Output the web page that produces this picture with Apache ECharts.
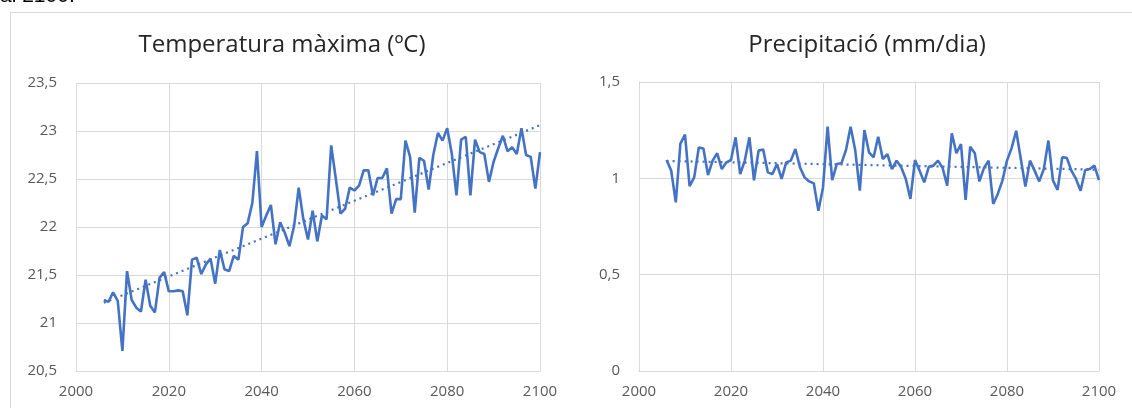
<!DOCTYPE html>
<html>
<head>
<meta charset="utf-8">
<script src="https://cdn.jsdelivr.net/npm/echarts@6/dist/echarts.min.js"></script>
<style>
html,body{margin:0;padding:0;background:#fff;}
#chart{width:1132px;height:408px;}
</style>
</head>
<body>
<div id="chart"></div>
<script>
// Years 2006..2100
const years = [];
for (let y = 2006; y <= 2100; y++) years.push(y);

const tempMax = [
  21.24, 21.22, 21.32, 21.23, 20.71, 21.54, 21.24, 21.16, 21.12, 21.45,
  21.18, 21.11, 21.47, 21.53, 21.33, 21.33, 21.34, 21.33, 21.08, 21.66,
  21.68, 21.51, 21.61, 21.67, 21.41, 21.76, 21.56, 21.54, 21.70, 21.66,
  22.00, 22.04, 22.25, 22.79, 22.00, 22.12, 22.23, 21.82, 22.05, 21.94,
  21.80, 22.01, 22.41, 22.08, 21.87, 22.17, 21.85, 22.12, 22.08, 22.85,
  22.50, 22.14, 22.19, 22.41, 22.38, 22.43, 22.59, 22.59, 22.33, 22.51,
  22.51, 22.61, 22.14, 22.29, 22.29, 22.90, 22.73, 22.15, 22.72, 22.69,
  22.39, 22.75, 22.98, 22.90, 23.03, 22.76, 22.33, 22.91, 22.94, 22.33,
  22.91, 22.78, 22.76, 22.47, 22.68, 22.82, 22.95, 22.79, 22.83, 22.76,
  23.03, 22.75, 22.73, 22.40, 22.78
];

const precip = [
  1.095, 1.04, 0.875, 1.18, 1.227, 0.96, 1.005, 1.16, 1.155, 1.017,
  1.092, 1.13, 1.048, 1.083, 1.095, 1.213, 1.022, 1.092, 1.213, 0.99,
  1.144, 1.149, 1.031, 1.022, 1.074, 0.997, 1.083, 1.092, 1.152, 1.057,
  1.005, 0.984, 0.974, 0.832, 0.953, 1.268, 0.991, 1.074, 1.078, 1.147,
  1.268, 1.147, 0.936, 1.251, 1.135, 1.109, 1.216, 1.10, 1.126, 1.048,
  1.092, 1.057, 0.997, 0.893, 1.095, 1.04, 0.979, 1.06, 1.066, 1.092,
  1.054, 0.962, 1.234, 1.13, 1.178, 0.888, 1.164, 1.13, 0.984, 1.054,
  1.092, 0.867, 0.919, 0.988, 1.092, 1.157, 1.247, 1.10, 0.957, 1.092,
  1.04, 0.984, 1.048, 1.196, 0.988, 0.94, 1.109, 1.106, 1.04, 0.997,
  0.936, 1.043, 1.048, 1.066, 0.991
];

// Trend line end points
const tempTrend = [[2006, 21.21], [2100, 23.06]];
const precipTrend = [[2006, 1.09], [2100, 1.045]];

const titles = ['Temperatura màxima (ºC)', 'Precipitació (mm/dia)'];

const blue = '#4472C4';
const gridColor = '#d9d9d9';
const labelColor = '#595959';
const fontFam = '"Open Sans", "Noto Sans", sans-serif';

function fmtY(v) {
  return String(v).replace('.', ',');
}
function fmtX(v) {
  return String(v);
}

function xAxis(gi) {
  return {
    type: 'value', gridIndex: gi, min: 2000, max: 2100, interval: 20,
    axisLine: { show: true, lineStyle: { color: gridColor, width: 1 } },
    axisTick: { show: false },
    splitLine: { show: true, lineStyle: { color: gridColor, width: 1 } },
    axisLabel: { color: labelColor, fontSize: 15, fontFamily: fontFam, margin: 13, formatter: fmtX }
  };
}
function yAxis(gi, min, max) {
  return {
    type: 'value', gridIndex: gi, min: min, max: max, interval: 0.5,
    axisLine: { show: true, lineStyle: { color: gridColor, width: 1 } },
    axisTick: { show: false },
    splitLine: { show: true, lineStyle: { color: gridColor, width: 1 } },
    axisLabel: { color: labelColor, fontSize: 15, fontFamily: fontFam, margin: 19, formatter: fmtY }
  };
}

const chart = echarts.init(document.getElementById('chart'), null, { renderer: 'canvas' });
chart.setOption({
  animation: false,
  backgroundColor: '#fff',
  title: [
    { text: titles[0], left: 277, top: 28, textAlign: 'center',
      textStyle: { fontFamily: fontFam, fontSize: 24, fontWeight: 'normal', color: '#262626' } },
    { text: titles[1], left: 862, top: 28, textAlign: 'center',
      textStyle: { fontFamily: fontFam, fontSize: 24, fontWeight: 'normal', color: '#262626' } }
  ],
  grid: [
    { left: 76, top: 83, width: 464, height: 288 },
    { left: 639, top: 82, width: 460, height: 289 }
  ],
  xAxis: [xAxis(0), xAxis(1)],
  yAxis: [yAxis(0, 20.5, 23.5), yAxis(1, 0, 1.5)],
  series: [
    { type: 'line', xAxisIndex: 0, yAxisIndex: 0, showSymbol: false, symbol: 'none',
      data: years.map((y, i) => [y, tempMax[i]]),
      lineStyle: { color: blue, width: 2.6 }, z: 3 },
    { type: 'line', xAxisIndex: 0, yAxisIndex: 0, symbol: 'none',
      data: tempTrend,
      lineStyle: { color: blue, width: 2.2, type: [2, 4] }, z: 2 },
    { type: 'line', xAxisIndex: 1, yAxisIndex: 1, showSymbol: false, symbol: 'none',
      data: years.map((y, i) => [y, precip[i]]),
      lineStyle: { color: blue, width: 2.6 }, z: 3 },
    { type: 'line', xAxisIndex: 1, yAxisIndex: 1, symbol: 'none',
      data: precipTrend,
      lineStyle: { color: blue, width: 2.2, type: [2, 4] }, z: 2 }
  ],
  graphic: [
    { type: 'line', shape: { x1: 10, y1: 12.5, x2: 1132, y2: 12.5 },
      style: { stroke: '#d9d9d9', lineWidth: 1 }, silent: true },
    { type: 'line', shape: { x1: 10.5, y1: 12, x2: 10.5, y2: 408 },
      style: { stroke: '#d9d9d9', lineWidth: 1 }, silent: true },
    { type: 'text', left: 0, top: -14,
      style: { text: 'al 2100.', font: '21px "Liberation Sans", Arial, sans-serif', fill: '#000' }, silent: true }
  ]
});
</script>
</body>
</html>
